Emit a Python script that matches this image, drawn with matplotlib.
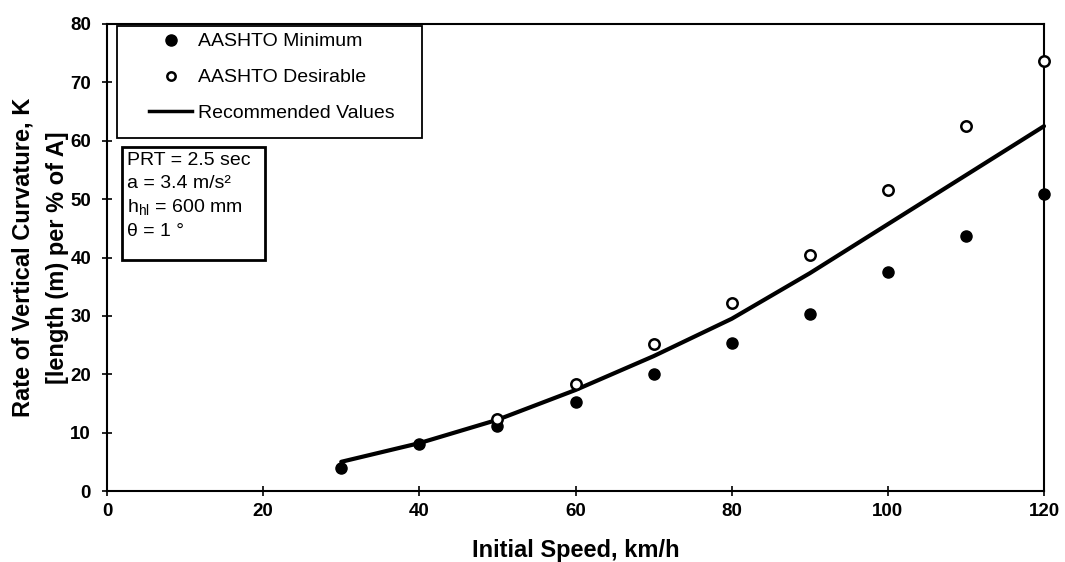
import numpy as np
import matplotlib.pyplot as plt
from matplotlib.lines import Line2D
from matplotlib.patches import Rectangle

plt.rcParams['font.family'] = ['Liberation Sans', 'DejaVu Sans']
plt.rcParams['mathtext.fontset'] = 'custom'
plt.rcParams['mathtext.rm'] = 'Liberation Sans'

# velocidades y valores de K
vel_min = [30, 40, 50, 60, 70, 80, 90, 100, 110, 120]
k_min = [4.0, 8.0, 11.1, 15.2, 20.1, 25.3, 30.4, 37.5, 43.6, 50.8]

vel_des = [50, 60, 70, 80, 90, 100, 110, 120]
k_des = [12.3, 18.3, 25.1, 32.2, 40.5, 51.6, 62.5, 73.6]

vel_rec = [30, 40, 50, 60, 70, 80, 90, 100, 110, 120]
k_rec = [5.0, 8.2, 12.2, 17.3, 23.1, 29.5, 37.3, 45.7, 54.1, 62.5]

fig = plt.figure(figsize=(10.65, 5.62), dpi=100)
ax = fig.add_axes([107 / 1065, 1 - 491 / 562, (1044 - 107) / 1065, (491 - 24) / 562])

ax.plot(vel_rec, k_rec, color='black', lw=3, solid_capstyle='round', zorder=2,
        clip_on=False)
ax.plot(vel_min, k_min, 'o', color='black', ms=8, zorder=3, clip_on=False)
ax.plot(vel_des, k_des, 'o', mfc='white', mec='black', mew=1.8, ms=7.5, zorder=3,
        clip_on=False)

ax.set_xlim(0, 120)
ax.set_ylim(0, 80)
ax.set_xticks(np.arange(0, 121, 20))
ax.set_yticks(np.arange(0, 81, 10))
ax.tick_params(direction='inout', length=7, width=1.2, labelsize=13.5, color='black')
ax.tick_params(axis='x', pad=5)
ax.tick_params(axis='y', pad=8)
for lbl in ax.get_xticklabels() + ax.get_yticklabels():
    lbl.set_fontweight('bold')
for s in ax.spines.values():
    s.set_linewidth(1.5)

ax.set_xlabel('Initial Speed, km/h', fontsize=17, fontweight='bold', labelpad=14)
ax.set_ylabel('Rate of Vertical Curvature, K\n[length (m) per % of A]',
              fontsize=17, fontweight='bold', labelpad=1, linespacing=1.6)

# leyenda con marco propio (más ancho que el texto)
handles = [
    Line2D([], [], marker='o', ls='none', color='black', ms=8),
    Line2D([], [], marker='o', ls='none', mfc='white', mec='black', mew=1.8, ms=6),
    Line2D([], [], color='black', lw=2.5),
]
labels = ['AASHTO Minimum', 'AASHTO Desirable', 'Recommended Values']
leg = ax.legend(handles, labels, loc='upper left', bbox_to_anchor=(0.045, 0.981),
                fontsize=14, frameon=False, borderpad=0, labelspacing=0.94,
                handlelength=2.2, handletextpad=0.3, borderaxespad=0)
ax.add_patch(Rectangle((0.0107, 0.756), 0.326, 0.2395, transform=ax.transAxes,
                       fill=True, fc='white', ec='black', lw=1.3, zorder=4))
leg.set_zorder(5)

info = ('PRT = 2.5 sec\n'
        'a = 3.4 m/s²\n'
        'h$_\\mathregular{hl}$ = 600 mm\n'
        'θ = 1 °')
ax.add_patch(Rectangle((0.016, 0.495), 0.1525, 0.242, transform=ax.transAxes,
                       fill=True, fc='white', ec='black', lw=2, zorder=4))
ax.text(0.021, 0.725, info, transform=ax.transAxes, fontsize=14, va='top',
        ha='left', linespacing=1.4, zorder=5)

fig.savefig('out.png', dpi=100)
